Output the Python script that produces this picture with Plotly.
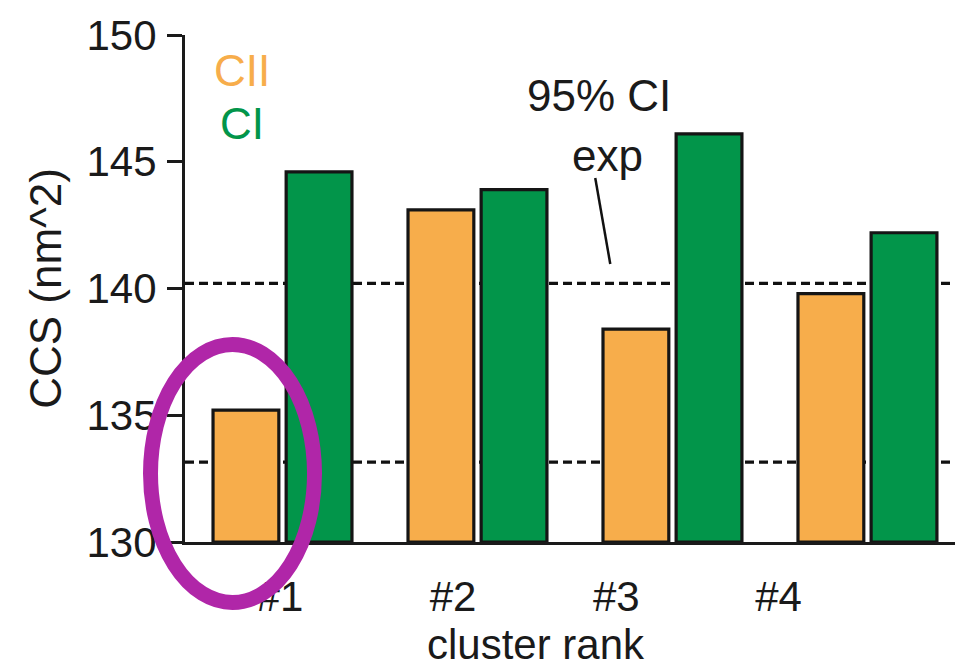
import plotly.graph_objects as go

# Cluster ranks and collision cross sections for the two charge states
cluster_pos = [0, 1, 2, 3]
ccs_cii = [135.2, 143.1, 138.4, 139.8]
ccs_ci = [144.6, 143.9, 146.1, 142.2]

# Rank labels as they sit under the axis
rank_label_pos = [-0.013, 0.875, 1.712, 2.544]
rank_labels = ["#1", "#2", "#3", "#4"]

# Experimental 95% confidence interval bounds
ci_low = 133.15
ci_high = 140.2

y_ticks = [130, 135, 140, 145, 150]

FONT = "Liberation Sans, Arial, Helvetica, sans-serif"
ORANGE = "#F7AD4B"
GREEN = "#02954A"
PURPLE = "#B026A8"

fig = go.Figure()
fig.add_trace(go.Bar(
    x=cluster_pos, y=[v - 130 for v in ccs_cii], base=130, name="CII",
    marker=dict(color=ORANGE, line=dict(color="#151515", width=3.2)),
))
fig.add_trace(go.Bar(
    x=cluster_pos, y=[v - 130 for v in ccs_ci], base=130, name="CI",
    marker=dict(color=GREEN, line=dict(color="#151515", width=3.2)),
))

# Dashed lines marking the experimental CI, behind the bars
for yv in (ci_low, ci_high):
    fig.add_shape(type="line", xref="paper", x0=0, x1=1, yref="y", y0=yv, y1=yv,
                  line=dict(color="#111", width=3.2, dash="9px,5px"), layer="below")

# Pointer from the label to the upper CI line
fig.add_shape(type="line", xref="x", yref="y", x0=1.604, y0=144.36, x1=1.681, y1=140.97,
              line=dict(color="#111", width=2.5))

# Highlight around the first-rank CII bar
fig.add_shape(type="circle", xref="paper", yref="paper",
              x0=-0.0448, x1=0.1682, y0=-0.1193, y1=0.3895,
              line=dict(color=PURPLE, width=15), layer="above")

annots = [
    dict(text="CII", x=242, y=70, color=ORANGE, size=44),
    dict(text="CI", x=242, y=123, color=GREEN, size=44),
    dict(text="95% CI", x=599, y=96, color="#1a1a1a", size=44),
    dict(text="exp", x=607, y=155, color="#1a1a1a", size=44),
    dict(text="cluster rank", x=536, y=644, color="#1a1a1a", size=42),
]
for a in annots:
    fig.add_annotation(
        text=a["text"], xref="paper", yref="paper",
        x=(a["x"] - 185) / 770, y=(542 - a["y"]) / 507,
        xanchor="center", yanchor="middle", showarrow=False,
        font=dict(family=FONT, size=a["size"], color=a["color"]),
    )

fig.update_layout(
    width=955, height=666,
    margin=dict(l=185, r=0, t=35, b=124),
    paper_bgcolor="white", plot_bgcolor="white",
    barmode="group", bargap=0.25, bargroupgap=0.1,
    showlegend=False,
    font=dict(family=FONT, size=42, color="#1a1a1a"),
    xaxis=dict(
        range=[-0.5, 3.449], tickvals=rank_label_pos, ticktext=rank_labels,
        ticks="", showline=True, linecolor="#1a1a1a", linewidth=3,
        showgrid=False, zeroline=False, ticklabelstandoff=16,
        tickfont=dict(size=42),
    ),
    yaxis=dict(
        range=[130, 150], tickvals=y_ticks, ticks="outside", ticklen=15,
        tickwidth=3, tickcolor="#1a1a1a", showline=True, linecolor="#1a1a1a",
        linewidth=3, showgrid=False, zeroline=False, ticklabelstandoff=2,
        tickfont=dict(size=42),
        title=dict(text="CCS (nm^2)", font=dict(size=44), standoff=12),
    ),
)

fig.write_html("out.html")
